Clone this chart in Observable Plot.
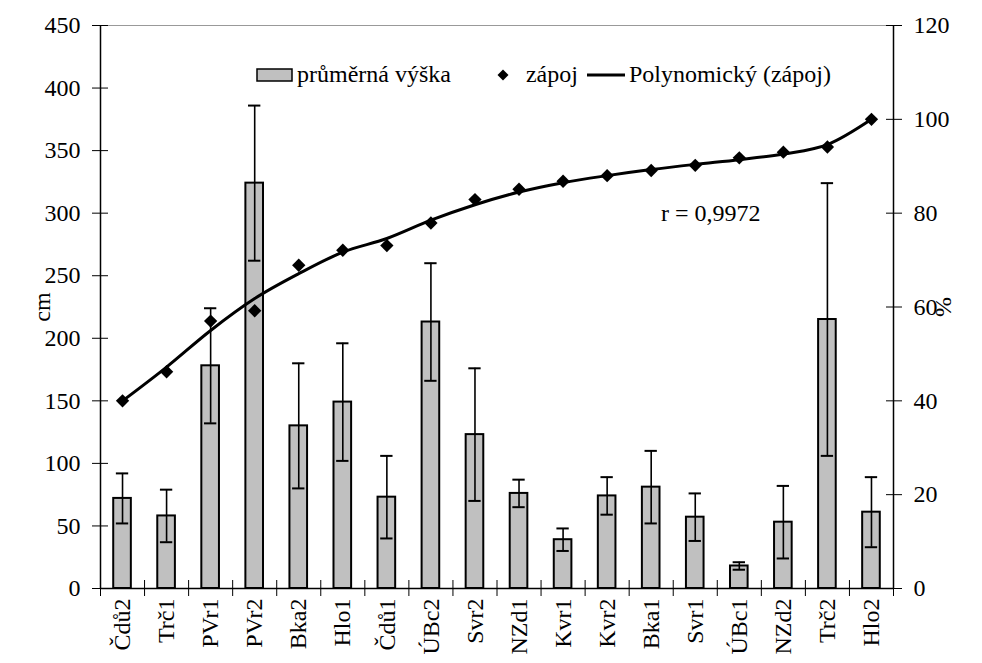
<!DOCTYPE html>
<html>
<head>
<meta charset="utf-8">
<script src="https://cdn.jsdelivr.net/npm/d3@7"></script>
<script src="https://cdn.jsdelivr.net/npm/@observablehq/plot@0.6"></script>
<style>
  html, body { margin: 0; padding: 0; background: #fff; }
  #wrap { position: relative; width: 982px; height: 663px; font-family: "Liberation Serif", "Times New Roman", serif; }
  #legend { position: absolute; top: 61px; left: 256px; display: flex; align-items: center; font-size: 24px; color: #000; white-space: nowrap; }
  #legend .it { display: flex; align-items: center; }
</style>
</head>
<body>
<div id="wrap">
  <div id="legend">
    <span class="it"><svg width="37" height="14"><rect x="1" y="1" width="35" height="12" fill="#c0c0c0" stroke="#000" stroke-width="1.5"/></svg><span style="margin-left:4px">průměrná výška</span></span>
    <span class="it" style="margin-left:46px"><svg width="12" height="12"><path d="M6,0.5L11.5,6L6,11.5L0.5,6Z" fill="#000"/></svg><span style="margin-left:17px">zápoj</span></span>
    <span class="it" style="margin-left:9px"><svg width="38" height="6"><line x1="0" y1="3" x2="38" y2="3" stroke="#000" stroke-width="3"/></svg><span style="margin-left:4px">Polynomický (zápoj)</span></span>
  </div>
  <div id="chart"></div>
</div>
<script>
const categories = ["Čdů2","Trč1","PVr1","PVr2","Bka2","Hlo1","Čdů1","ÚBc2","Svr2","NZd1","Kvr1","Kvr2","Bka1","Svr1","ÚBc1","NZd2","Trč2","Hlo2"];
const vyska = [72, 58, 178, 324, 130, 149, 73, 213, 123, 76, 39, 74, 81, 57, 18, 53, 215, 61];
const sd = [20, 21, 46, 62, 50, 47, 33, 47, 53, 11, 9, 15, 29, 19, 3, 29, 109, 28];
const zapoj = [40, 46.2, 57, 59.2, 68.9, 72.1, 73.1, 77.9, 82.9, 85.1, 86.8, 88, 89.1, 90.2, 91.8, 93, 94.1, 100];
const trend = [40, 47.2, 55.0, 61.8, 67.1, 71.7, 74.6, 78.5, 81.8, 84.5, 86.5, 88.0, 89.3, 90.4, 91.4, 92.6, 94.6, 100];
const leftTicks = [0, 50, 100, 150, 200, 250, 300, 350, 400, 450];
const rightTicks = [0, 20, 40, 60, 80, 100, 120];
const leftMax = 450, rightMax = 120;
const rText = "r = 0,9972";

const k = leftMax / rightMax; // right-axis (%) to left-axis (cm) scale factor
const data = categories.map((c, i) => ({c, i, h: vyska[i], lo: vyska[i] - sd[i], hi: vyska[i] + sd[i], z: zapoj[i] * k, t: trend[i] * k}));
const n = categories.length;

const chart = Plot.plot({
  width: 982,
  height: 663,
  marginLeft: 100,
  marginRight: 89,
  marginTop: 25,
  marginBottom: 75,
  style: {fontFamily: "Liberation Serif, Times New Roman, serif", fontSize: "24px", color: "#000", background: "#fff"},
  x: {type: "linear", domain: [0, n]},
  y: {domain: [0, leftMax]},
  marks: [
    Plot.ruleY([leftMax], {stroke: "#999", strokeWidth: 1}),
    Plot.rectY(data, {x1: d => d.i + 0.3, x2: d => d.i + 0.7, y1: 0, y2: "h", fill: "#c0c0c0", stroke: "#000", strokeWidth: 2}),
    Plot.ruleX(data, {x: d => d.i + 0.5, y1: "lo", y2: "hi", stroke: "#000", strokeWidth: 1.6}),
    Plot.ruleY(data, {y: "lo", x1: d => d.i + 0.36, x2: d => d.i + 0.64, stroke: "#000", strokeWidth: 2}),
    Plot.ruleY(data, {y: "hi", x1: d => d.i + 0.36, x2: d => d.i + 0.64, stroke: "#000", strokeWidth: 2}),
    Plot.dot(data, {x: d => d.i + 0.5, y: "z", symbol: "diamond2", fill: "#000", stroke: "none", r: 6}),
    Plot.line(data, {x: d => d.i + 0.5, y: "t", curve: "monotone-x", stroke: "#000", strokeWidth: 3}),
    Plot.ruleX([0], {stroke: "#000", strokeWidth: 1.5}),
    Plot.ruleX([n], {stroke: "#000", strokeWidth: 1.5}),
    Plot.ruleY([0], {stroke: "#000", strokeWidth: 1.5}),
    // left axis
    Plot.axisY({anchor: "left", ticks: leftTicks, tickSize: 16, dx: 8, tickFormat: () => "", label: null}),
    Plot.axisY({anchor: "left", ticks: leftTicks, tickSize: 0, tickPadding: 20, tickFormat: d => String(d), label: null, fontSize: 24}),
    // right axis (%)
    Plot.axisY({anchor: "right", ticks: rightTicks.map(t => t * k), tickSize: 16, dx: -8, tickFormat: () => "", label: null}),
    Plot.axisY({anchor: "right", ticks: rightTicks.map(t => t * k), tickSize: 0, tickPadding: 20, tickFormat: d => String(Math.round(d / k)), label: null, fontSize: 24}),
    // x axis
    Plot.axisX({ticks: d3.range(0, n + 1), tickSize: 16, dy: -8, tickFormat: () => "", label: null}),
    Plot.axisX({ticks: d3.range(0, n).map(i => i + 0.5), tickSize: 0, tickPadding: 10, tickRotate: -90, tickFormat: v => categories[Math.round(v - 0.5)], label: null, fontSize: 24}),
    Plot.text([rText], {x: 13.85, y: 300, text: d => d, fontSize: 24, textAnchor: "middle"}),
    Plot.text(["cm"], {x: 0, y: leftMax / 2, dx: -58, rotate: -90, text: d => d, fontSize: 24, textAnchor: "middle"}),
    Plot.text(["%"], {x: n, y: leftMax / 2, dx: 50, rotate: -90, text: d => d, fontSize: 24, textAnchor: "middle"})
  ]
});
document.getElementById("chart").appendChild(chart);
</script>
</body>
</html>
